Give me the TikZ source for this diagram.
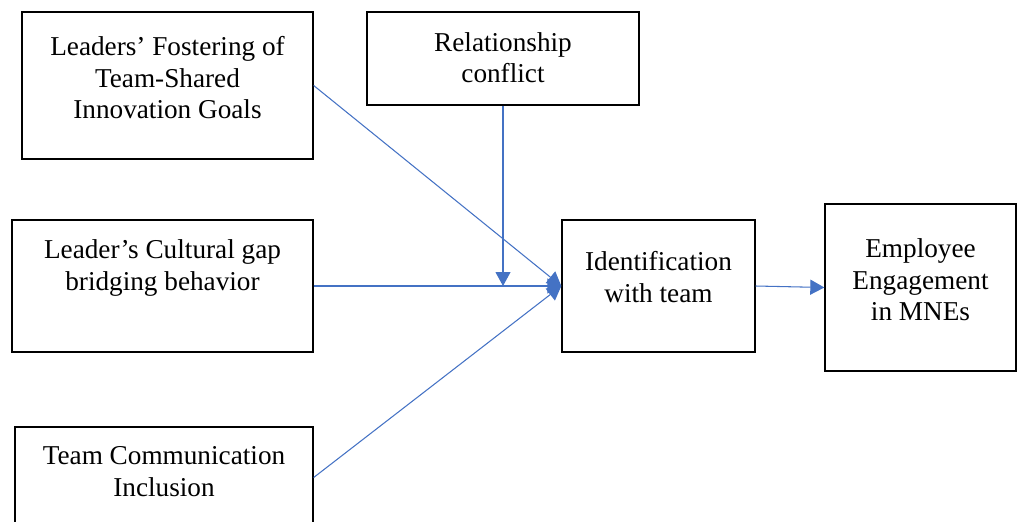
\documentclass[tikz,border=0pt]{standalone}
\usepackage{fontspec}
\setmainfont{Liberation Serif}
\usetikzlibrary{arrows.meta}
\definecolor{linkblue}{HTML}{4472C4}

\tikzset{
	box/.style={draw, line width=0.8pt, align=center, font=\fontsize{15.5}{18}\selectfont},
	link/.style={draw=linkblue, line width=0.6pt, -{Triangle[length=0.28cm, width=0.3cm]}, linkblue}
}

\begin{document}
\begin{tikzpicture}[x=0.02cm, y=-0.02cm]
	\useasboundingbox (0,0) rectangle (1017,521);
	\clip (0,0) rectangle (1017,521);
	% boxes
	\node [box, minimum width=5.82cm, minimum height=2.94cm, text depth=9pt] (goals) at (167.5,85.5) {Leaders' Fostering of\\Team-Shared\\Innovation Goals};
	\node [box, minimum width=5.44cm, minimum height=1.86cm, text depth=1pt] (conflict) at (503,58.5) {Relationship\\conflict};
	\node [box, minimum width=6.02cm, minimum height=2.64cm, text depth=24pt] (bridging) at (162.5,286) {Leader's Cultural gap\\bridging behavior};
	\node [box, minimum width=5.96cm, minimum height=2.02cm, text depth=7pt] (inclusion) at (164,477.5) {Team Communication\\Inclusion};
	\node [box, minimum width=3.86cm, minimum height=2.64cm, text depth=10pt] (ident) at (658.5,286) {Identification\\with team};
	\node [box, minimum width=3.82cm, minimum height=3.34cm, text depth=9pt] (engage) at (920.5,287.5) {Employee\\Engagement\\in MNEs};
	% arrows
	\draw [link] (goals.east) -- (ident.west);
	\draw [link] (bridging.east) -- (ident.west);
	\draw [link] (inclusion.east) -- (ident.west);
	\draw [link] (conflict.south) -- (conflict.south |- bridging.east);
	\draw [link] (ident.east) -- (engage.west);
\end{tikzpicture}
\end{document}
